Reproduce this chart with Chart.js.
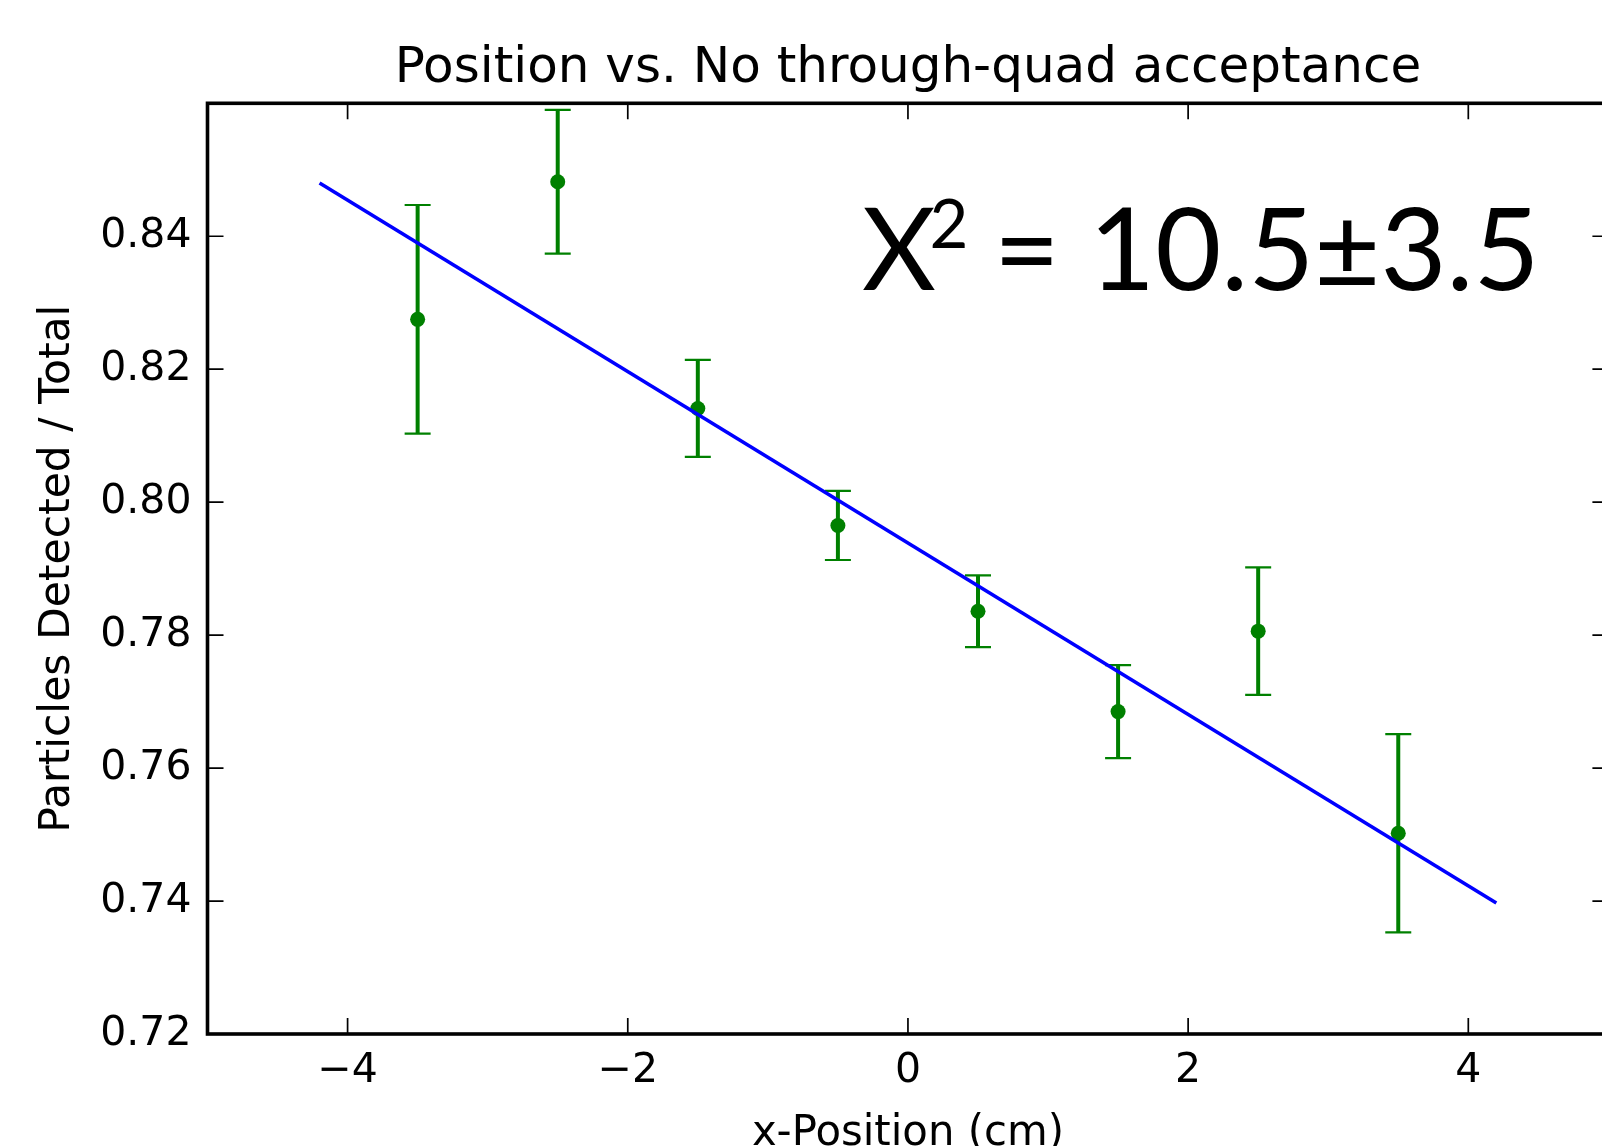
<!DOCTYPE html>
<html><head><meta charset="utf-8">
<script src="https://cdn.jsdelivr.net/npm/chart.js@4.4.1/dist/chart.umd.min.js"></script>
<style>
html,body{margin:0;padding:0;overflow:hidden;background:#fff;width:1602px;height:1146px;}
#wrap{position:absolute;left:0;top:0;width:1640px;height:1146px;}
canvas{display:block;}
</style></head><body>
<div id="wrap"><canvas id="c" width="1640" height="1146"></canvas></div>
<script>
// ---- data ----
const xPositions = [-3.5, -2.5, -1.5, -0.5, 0.5, 1.5, 2.5, 3.5];
const ratios     = [0.8275, 0.8482, 0.8141, 0.7965, 0.7836, 0.7685, 0.7806, 0.7502];
const errors     = [0.0172, 0.0108, 0.0073, 0.0052, 0.0054, 0.0070, 0.0096, 0.0149];
const fitX = [-4.2, 4.2];
const fitY = [0.8480, 0.7397];
const xTicks = [-4, -2, 0, 2, 4];
const yTicks = [0.72, 0.74, 0.76, 0.78, 0.80, 0.82, 0.84];
const titleText = 'Position vs. No through-quad acceptance';
const xLabel = 'x-Position (cm)';
const yLabel = 'Particles Detected / Total';
const chiParts = ['X', '2', '= 10.5\u00b13.5'];

// ---- derived datasets ----
const fitData = fitX.map((x, i) => ({x, y: fitY[i]}));
const pointData = xPositions.map((x, i) => ({x, y: ratios[i]}));
const errData = [];
xPositions.forEach((x, i) => {
  errData.push({x, y: ratios[i] - errors[i]});
  errData.push({x, y: ratios[i] + errors[i]});
  errData.push({x, y: null});
});

const GREEN = '#008000';
const FONT = 'DejaVu Sans';

const framePlugin = {
  id: 'frame',
  afterDatasetsDraw(chart) {
    const {ctx, chartArea: a, scales: {x, y}} = chart;
    ctx.save();
    ctx.strokeStyle = '#000';
    ctx.lineWidth = 1.7;
    const tl = 16;
    ctx.beginPath();
    x.ticks.forEach(t => {
      const px = x.getPixelForValue(t.value);
      ctx.moveTo(px, a.bottom); ctx.lineTo(px, a.bottom - tl);
      ctx.moveTo(px, a.top); ctx.lineTo(px, a.top + tl);
    });
    y.ticks.forEach(t => {
      const py = y.getPixelForValue(t.value);
      ctx.moveTo(a.left, py); ctx.lineTo(a.left + tl, py);
      ctx.moveTo(a.right, py); ctx.lineTo(a.right - tl, py);
    });
    ctx.stroke();
    ctx.lineWidth = 3.6;
    ctx.strokeRect(a.left, a.top, a.right - a.left, a.bottom - a.top);
    ctx.restore();
  }
};

const chiLayout = {inkLeft: [863, 932.6, 1001.8], baseline: [290, 248.3, 290], size: [114, 67, 114]};
const chiPlugin = {
  id: 'chi',
  afterDraw(chart) {
    const ctx = chart.ctx;
    ctx.save();
    ctx.fillStyle = '#000';
    ctx.textAlign = 'left';
    ctx.textBaseline = 'alphabetic';
    chiParts.forEach((s, i) => {
      ctx.font = chiLayout.size[i] + 'px Lato';
      const m = ctx.measureText(s);
      ctx.fillText(s, chiLayout.inkLeft[i] + m.actualBoundingBoxLeft, chiLayout.baseline[i]);
    });
    ctx.restore();
  }
};

function fmtX(v) { return v < 0 ? '\u2212' + Math.abs(v) : String(v); }

function build() {
  new Chart(document.getElementById('c'), {
    type: 'scatter',
    data: {
      datasets: [
        { label: 'fit', data: fitData, showLine: true, borderColor: '#0000ff', borderWidth: 3.6,
          pointRadius: 0, fill: false, order: 0 },
        { label: 'points', data: pointData, pointRadius: 7.5, pointBackgroundColor: GREEN,
          pointBorderColor: GREEN, pointBorderWidth: 0, showLine: false, order: 1 },
        { label: 'err', data: errData, showLine: true, spanGaps: false, borderColor: GREEN, borderWidth: 4,
          pointStyle: 'line', pointRadius: 13, pointBorderColor: GREEN, pointBorderWidth: 2.2,
          pointBackgroundColor: GREEN, fill: false, order: 2 }
      ]
    },
    options: {
      responsive: false,
      animation: false,
      devicePixelRatio: 1,
      events: [],
      layout: { padding: { left: 0, right: 31.6, top: 0, bottom: 0 } },
      plugins: {
        legend: { display: false },
        tooltip: { enabled: false },
        title: { display: true, text: titleText, fullSize: false, color: '#000',
                 font: { family: FONT, size: 50, weight: 'normal' },
                 padding: { top: 39, bottom: 4.3 } }
      },
      scales: {
        x: {
          type: 'linear', min: -5, max: 5,
          afterBuildTicks: s => { s.ticks = xTicks.map(v => ({value: v})); },
          afterFit: s => { s.height = 112; },
          grid: { display: false, drawTicks: false }, border: { display: false },
          ticks: { font: { family: FONT, size: 41 }, color: '#000', padding: 13,
                   maxRotation: 0, autoSkip: false, callback: v => fmtX(v) },
          title: { display: true, text: xLabel, color: '#000',
                   font: { family: FONT, size: 41.8, lineHeight: 0.55 }, padding: { top: 0, bottom: 0 } }
        },
        y: {
          type: 'linear', min: 0.72, max: 0.86,
          afterBuildTicks: s => { s.ticks = yTicks.map(v => ({value: v})); },
          afterFit: s => { s.width = 207.5; },
          grid: { display: false, drawTicks: false }, border: { display: false },
          ticks: { font: { family: FONT, size: 41 }, color: '#000', padding: 16,
                   autoSkip: false, callback: v => v.toFixed(2) },
          title: { display: true, text: yLabel, color: '#000',
                   font: { family: FONT, size: 42.5 }, padding: { top: 32, bottom: 0 } }
        }
      }
    },
    plugins: [framePlugin, chiPlugin]
  });
}
Promise.all([document.fonts.load('114px Lato'), document.fonts.load('41px "DejaVu Sans"')])
  .then(build, build);
</script>
</body></html>
